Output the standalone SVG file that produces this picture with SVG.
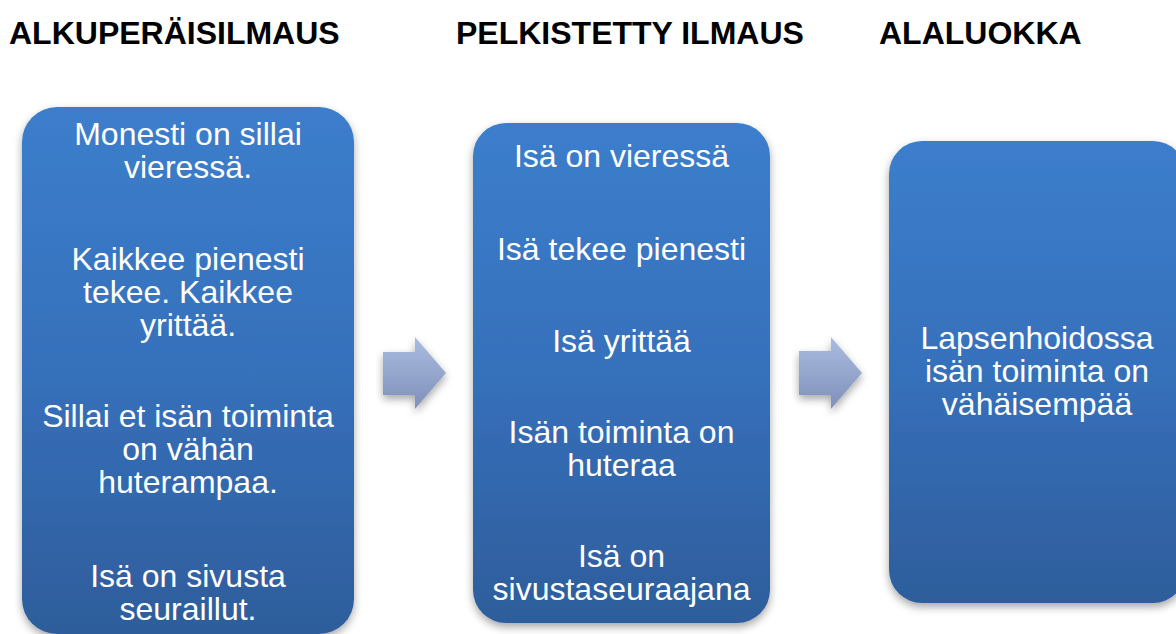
<svg xmlns="http://www.w3.org/2000/svg" width="1176" height="634" viewBox="0 0 1176 634">
  <style>
    .title { font-family: "Liberation Sans", Arial, sans-serif; font-weight: bold; font-size: 32px; fill: #000000; }
    .body { font-family: "Liberation Sans", Arial, sans-serif; font-size: 32px; fill: #ffffff; text-anchor: middle; }
    .box { fill: url(#boxGrad); filter: url(#shadow); }
    .arrow { fill: url(#arrowGrad); filter: url(#shadow); }
  </style>
  <defs>
    <linearGradient id="boxGrad" x1="0" y1="0" x2="0" y2="1">
      <stop offset="0" stop-color="#3c7ecc"/>
      <stop offset="0.5" stop-color="#3670bb"/>
      <stop offset="1" stop-color="#2e5d9b"/>
    </linearGradient>
    <linearGradient id="arrowGrad" x1="0" y1="0" x2="0" y2="1">
      <stop offset="0" stop-color="#aabde0"/>
      <stop offset="1" stop-color="#7f90b9"/>
    </linearGradient>
    <filter id="shadow" x="-10%" y="-10%" width="125%" height="125%">
      <feDropShadow dx="0" dy="4" stdDeviation="4" flood-color="#000000" flood-opacity="0.35"/>
    </filter>
  </defs>
  <rect width="1176" height="634" fill="#ffffff"/>

  <g id="titles">
    <text class="title" x="9" y="44">ALKUPERÄISILMAUS</text>
    <text class="title" x="456" y="44">PELKISTETTY ILMAUS</text>
    <text class="title" x="879" y="44">ALALUOKKA</text>
  </g>

  <g id="connectors">
    <polygon class="arrow" points="383,352 415,352 415,337 446,373 415,409 415,395 383,395"/>
    <polygon class="arrow" points="799,351 831,351 831,337 862,373 831,409 831,395 799,395"/>
  </g>

  <g id="node-alkuperaisilmaus">
    <rect class="box" x="22" y="107" width="332" height="527" rx="35" ry="35"/>
    <text class="body" x="188" y="145">Monesti on sillai</text>
    <text class="body" x="188" y="178">vieressä.</text>
    <text class="body" x="188" y="270">Kaikkee pienesti</text>
    <text class="body" x="188" y="303">tekee. Kaikkee</text>
    <text class="body" x="188" y="336">yrittää.</text>
    <text class="body" x="188" y="427">Sillai et isän toiminta</text>
    <text class="body" x="188" y="460">on vähän</text>
    <text class="body" x="188" y="493">huterampaa.</text>
    <text class="body" x="188" y="587">Isä on sivusta</text>
    <text class="body" x="188" y="620">seuraillut.</text>
  </g>

  <g id="node-pelkistetty">
    <rect class="box" x="473" y="123" width="297" height="500" rx="33" ry="33"/>
    <text class="body" x="621.5" y="167">Isä on vieressä</text>
    <text class="body" x="621.5" y="260">Isä tekee pienesti</text>
    <text class="body" x="621.5" y="352">Isä yrittää</text>
    <text class="body" x="621.5" y="443">Isän toiminta on</text>
    <text class="body" x="621.5" y="476">huteraa</text>
    <text class="body" x="621.5" y="567">Isä on</text>
    <text class="body" x="621.5" y="600">sivustaseuraajana</text>
  </g>

  <g id="node-alaluokka">
    <rect class="box" x="889" y="141" width="297" height="462" rx="33" ry="33"/>
    <text class="body" x="1037" y="349">Lapsenhoidossa</text>
    <text class="body" x="1037" y="382">isän toiminta on</text>
    <text class="body" x="1037" y="415">vähäisempää</text>
  </g>
</svg>
